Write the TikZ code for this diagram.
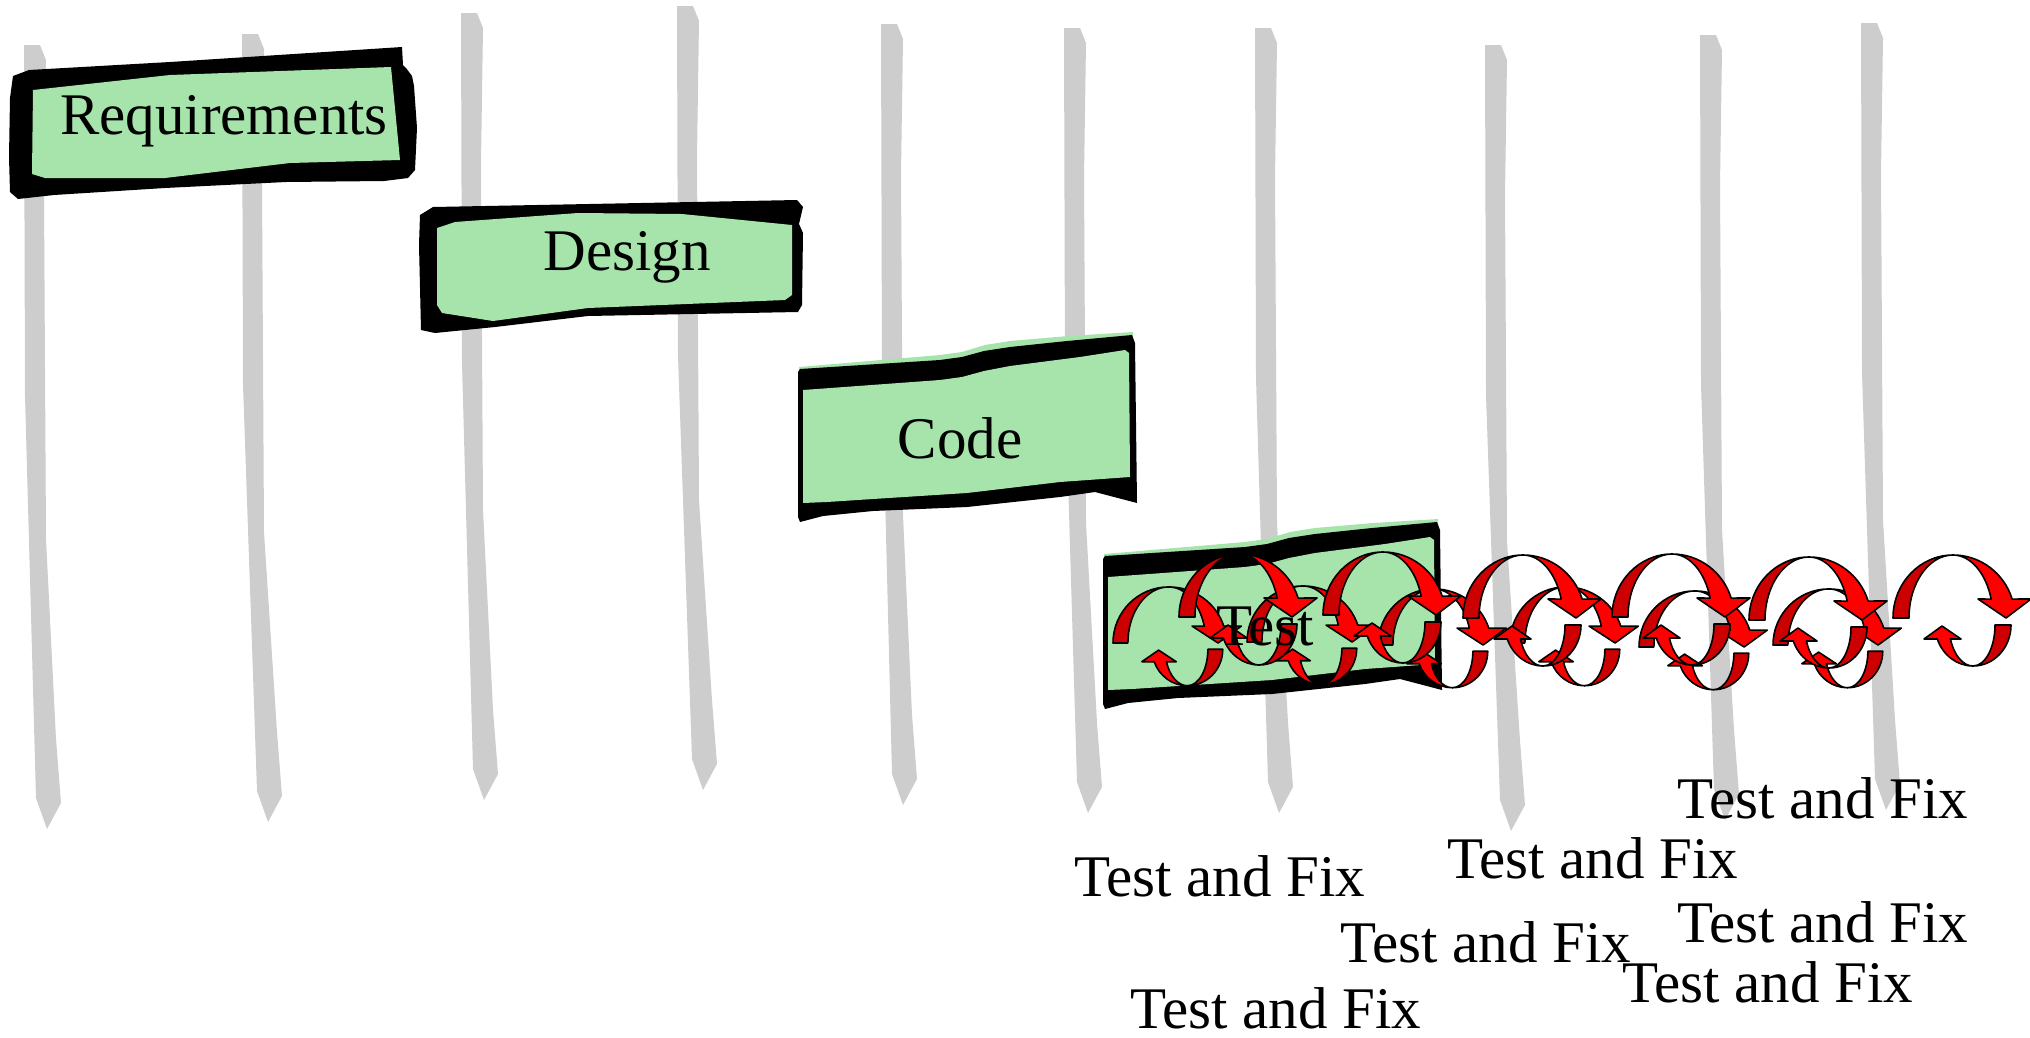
\documentclass[tikz,border=0pt]{standalone}
\usepackage{fontspec}
\setmainfont{Liberation Serif}
\definecolor{stakecol}{RGB}{205,205,205}
\definecolor{signgreen}{RGB}{166,228,172}
\definecolor{rbright}{RGB}{255,0,0}
\definecolor{rdark}{RGB}{204,0,0}
\tikzset{
  lbl/.style={font=\fontsize{59}{62}\selectfont, inner sep=0pt},
  ribbon/.style={draw=black, line width=1.6pt, line join=round},
}
% a grey wooden stake: top-left corner (#1,#2), pointed foot at (#3,#4)
\newcommand\stake[4]{%
  \fill[stakecol] (#1,#2) -- ({#1+16},#2) -- ({#1+22},{#2+15}) -- ({#1+20},{#2+150})
    -- ({#1+22},{#4-290}) -- ({#3+9},{#4-90}) -- ({#3+14},{#4-26}) -- (#3,#4)
    -- ({#3-11},{#4-31}) -- ({#1+1},{#2+350}) -- cycle;}
% a pair of twisted ribbon arrows turning clockwise, anchored at (#1,#2)
\newcommand\cyclearrows[3]{%
  \begin{scope}[shift={(#1,#2)},#3]
    \filldraw[ribbon, fill=rdark] (0,0)
      arc[start angle=180,end angle=270,x radius=60,y radius=63]
      arc[start angle=270,end angle=180,x radius=44,y radius=63] -- cycle;
    \filldraw[ribbon, fill=rbright] (60,-63)
      arc[start angle=270,end angle=342.5,x radius=62,y radius=63]
      -- (138,-19) -- (113,0) -- (85,-19) -- (98.15,-18.93)
      arc[start angle=342.5,end angle=270,x radius=40,y radius=63] -- cycle;
    \filldraw[ribbon, fill=rdark] (118,7)
      arc[start angle=0,end angle=90,x radius=38,y radius=41]
      arc[start angle=90,end angle=0,x radius=22,y radius=41] -- cycle;
    \filldraw[ribbon, fill=rbright] (80,48)
      arc[start angle=90,end angle=160,x radius=38,y radius=41]
      -- (31,21) -- (49,8) -- (68,21) -- (57.45,21.02)
      arc[start angle=160,end angle=90,x radius=24,y radius=41] -- cycle;
  \end{scope}}
% the wavy sign board used for Code and Test
\newcommand\waveboard[2]{%
  \begin{scope}[shift={(#1,#2)}]
    \fill[signgreen] (799,367) -- (940,355) -- (962,352) -- (985,345) -- (1010,341)
      -- (1068,336) -- (1133,332) -- (1133,420) -- (799,420) -- cycle;
    \fill[black] (798,372) -- (800,369) -- (940,360) -- (962,357) -- (984,351)
      -- (1010,347) -- (1067,341) -- (1132,335) -- (1135,343) -- (1137,503)
      -- (1095,492) -- (1060,497) -- (967,507) -- (873,511) -- (823,516)
      -- (800,522) -- (798,517) -- cycle;
    \fill[signgreen] (803,390) -- (940,380) -- (962,377) -- (984,371) -- (1010,366)
      -- (1080,357) -- (1125,350) -- (1129,353) -- (1130,477) -- (1060,482)
      -- (967,493) -- (873,499) -- (827,502) -- (803,503) -- cycle;
  \end{scope}}
\begin{document}
\begin{tikzpicture}[x=1pt,y=-1pt]
\useasboundingbox (0,0) rectangle (2030,1037);

% stakes
\stake{24}{45}{47}{829}
\stake{242}{34}{268}{822}
\stake{461}{13}{484}{800}
\stake{677}{6}{703}{790}
\stake{881}{24}{903}{805}
\stake{1064}{28}{1088}{813}
\stake{1255}{28}{1279}{813}
\stake{1485}{45}{1511}{831}
\stake{1700}{35}{1725}{820}
\stake{1861}{23}{1886}{810}

% Requirements board
\fill[black] (10,98) -- (13,76) -- (29,70) -- (170,62) -- (402,47) -- (403,65)
  -- (406,68) -- (412,76) -- (414,86) -- (417,128) -- (415,170) -- (408,178)
  -- (384,181) -- (286,182) -- (165,188) -- (54,195) -- (18,199) -- (10,192)
  -- (9,157) -- cycle;
\fill[signgreen] (33,90) -- (170,75) -- (391,67) -- (400,160) -- (290,163)
  -- (165,178) -- (45,178) -- (32,174) -- cycle;

% Design board
\fill[black] (420,215) -- (433,207) -- (797,200) -- (803,207) -- (799,224)
  -- (803,233) -- (802,305) -- (798,312) -- (588,316) -- (495,327)
  -- (435,333) -- (421,330) -- (419,245) -- cycle;
\fill[signgreen] (437,228) -- (455,222) -- (578,213) -- (682,214) -- (792,225)
  -- (792,295) -- (785,300) -- (588,308) -- (493,321) -- (442,313)
  -- (437,305) -- cycle;

% Code and Test boards
\waveboard{0}{0}
\waveboard{305}{187}

\node[lbl, anchor=base] (req) at (224,134) {Requirements};
\node[lbl, anchor=base] (des) at (627,270) {Design};
\node[lbl, anchor=base] (cod) at (960,458) {Code};

% test-and-fix cycles
\foreach \px/\py in {1113/643, 1247/642, 1378/645, 1510/643, 1639/647, 1773/645}
  {\cyclearrows{\px}{\py}{xscale=0.93,yscale=0.89}}
\foreach \px/\py in {1179/617, 1323/615, 1463/618, 1612/617, 1749/620, 1893/618}
  {\cyclearrows{\px}{\py}{}}

\node[lbl, anchor=base] (tst) at (1265,645) {Test};

% labels
\node[lbl, anchor=base west] (tf1) at (1677,818) {Test and Fix};
\node[lbl, anchor=base west] (tf2) at (1447,878) {Test and Fix};
\node[lbl, anchor=base west] (tf3) at (1074,896) {Test and Fix};
\node[lbl, anchor=base west] (tf4) at (1677,942) {Test and Fix};
\node[lbl, anchor=base west] (tf5) at (1340,962) {Test and Fix};
\node[lbl, anchor=base west] (tf6) at (1622,1002) {Test and Fix};
\node[lbl, anchor=base west] (tf7) at (1130,1028) {Test and Fix};
\end{tikzpicture}
\end{document}
